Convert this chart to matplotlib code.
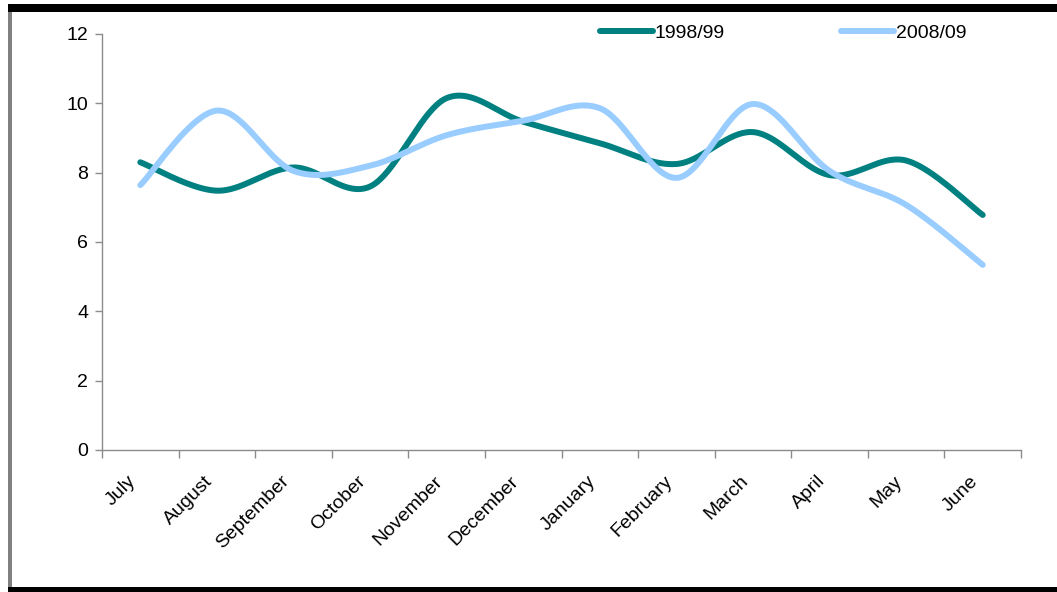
import matplotlib

matplotlib.use("Agg")

import matplotlib.pyplot as plt
import matplotlib.transforms as mtransforms
import numpy as np
from matplotlib.lines import Line2D
from matplotlib.patches import Rectangle

plt.rcParams["font.family"] = ["Liberation Sans", "DejaVu Sans"]

MONTHS = ["July", "August", "September", "October", "November", "December",
          "January", "February", "March", "April", "May", "June"]
SERIES_1998 = [8.3, 7.48, 8.15, 7.6, 10.15, 9.47, 8.85, 8.25, 9.17, 7.93, 8.35, 6.78]
SERIES_2008 = [7.64, 9.79, 8.05, 8.2, 9.08, 9.5, 9.86, 7.85, 9.98, 8.05, 7.07, 5.34]
Y_TICKS = [0, 2, 4, 6, 8, 10, 12]

TEAL = "#008080"
LIGHT_BLUE = "#99CCFF"
AXIS_GREY = "#8c8c8c"
FS = 14


def smooth(x, y, steps=40):
    """Catmull-Rom style smoothing, like a spreadsheet 'smoothed line'."""
    x = np.asarray(x, float)
    y = np.asarray(y, float)
    px = np.concatenate([[x[0]], x, [x[-1]]])
    py = np.concatenate([[y[0]], y, [y[-1]]])
    t = np.linspace(0, 1, steps)
    xs, ys = [], []
    for i in range(1, len(px) - 2):
        p0 = np.array([px[i], py[i]])
        p3 = np.array([px[i + 1], py[i + 1]])
        c1 = p0 + (p3 - np.array([px[i - 1], py[i - 1]])) / 6
        c2 = p3 - (np.array([px[i + 2], py[i + 2]]) - p0) / 6
        b = ((1 - t) ** 3)[:, None] * p0 + (3 * (1 - t) ** 2 * t)[:, None] * c1 \
            + (3 * (1 - t) * t ** 2)[:, None] * c2 + (t ** 3)[:, None] * p3
        xs.append(b[:, 0])
        ys.append(b[:, 1])
    return np.concatenate(xs), np.concatenate(ys)


fig = plt.figure(figsize=(10.57, 5.92), dpi=100)
ax = fig.add_axes([102 / 1057, 1 - 450 / 592, 919 / 1057, 416 / 592])

centers = np.arange(len(MONTHS)) + 0.5
for values, color, label in [(SERIES_1998, TEAL, "1998/99"),
                             (SERIES_2008, LIGHT_BLUE, "2008/09")]:
    sx, sy = smooth(centers, values)
    ax.plot(sx, sy, color=color, lw=4.3, solid_capstyle="round", label=label)

ax.set_xlim(0, len(MONTHS))
ax.set_ylim(0, 12)
ax.set_yticks(Y_TICKS)
ax.set_xticks(np.arange(len(MONTHS) + 1))
ax.set_xticklabels([])
ax.set_xticks(centers, MONTHS, minor=True)
ax.tick_params(axis="x", which="minor", length=0, pad=9, labelsize=FS)
ax.tick_params(axis="x", which="major", length=6, color=AXIS_GREY, width=1)
ax.tick_params(axis="y", length=5, color=AXIS_GREY, width=1, labelsize=FS, pad=5)
shift = mtransforms.ScaledTranslation(-13 / 100, -10 / 100, fig.dpi_scale_trans)
for lab in ax.get_xticklabels(minor=True):
    lab.set_rotation(45)
    lab.set_ha("right")
    lab.set_va("top")
    lab.set_rotation_mode("anchor")
    lab.set_transform(lab.get_transform() + shift)

for side in ("top", "right"):
    ax.spines[side].set_visible(False)
for side in ("left", "bottom"):
    ax.spines[side].set_color(AXIS_GREY)
    ax.spines[side].set_linewidth(1)

handles = [Line2D([], [], color=TEAL, lw=4.3, solid_capstyle="round"),
           Line2D([], [], color=LIGHT_BLUE, lw=4.3, solid_capstyle="round")]
fig.legend(handles, ["1998/99", "2008/09"], ncol=2, frameon=False,
           loc="center left", bbox_to_anchor=(600 / 1057, 1 - 33 / 592),
           fontsize=FS, handlelength=2.7, handletextpad=0.1, columnspacing=6.0,
           borderaxespad=0, borderpad=0)

# outer frame of the original graphic
W, H = 1057, 592
fig.add_artist(Rectangle((8 / W, 1 - 12 / H), 1, 8 / H, transform=fig.transFigure,
                         color="black", lw=0))
fig.add_artist(Rectangle((8 / W, 0), 4 / W, 1 - 12 / H, transform=fig.transFigure,
                         color="#808080", lw=0))
fig.add_artist(Rectangle((8 / W, 0), 1, 5 / H, transform=fig.transFigure,
                         color="black", lw=0))

fig.savefig("out.png", dpi=100)
